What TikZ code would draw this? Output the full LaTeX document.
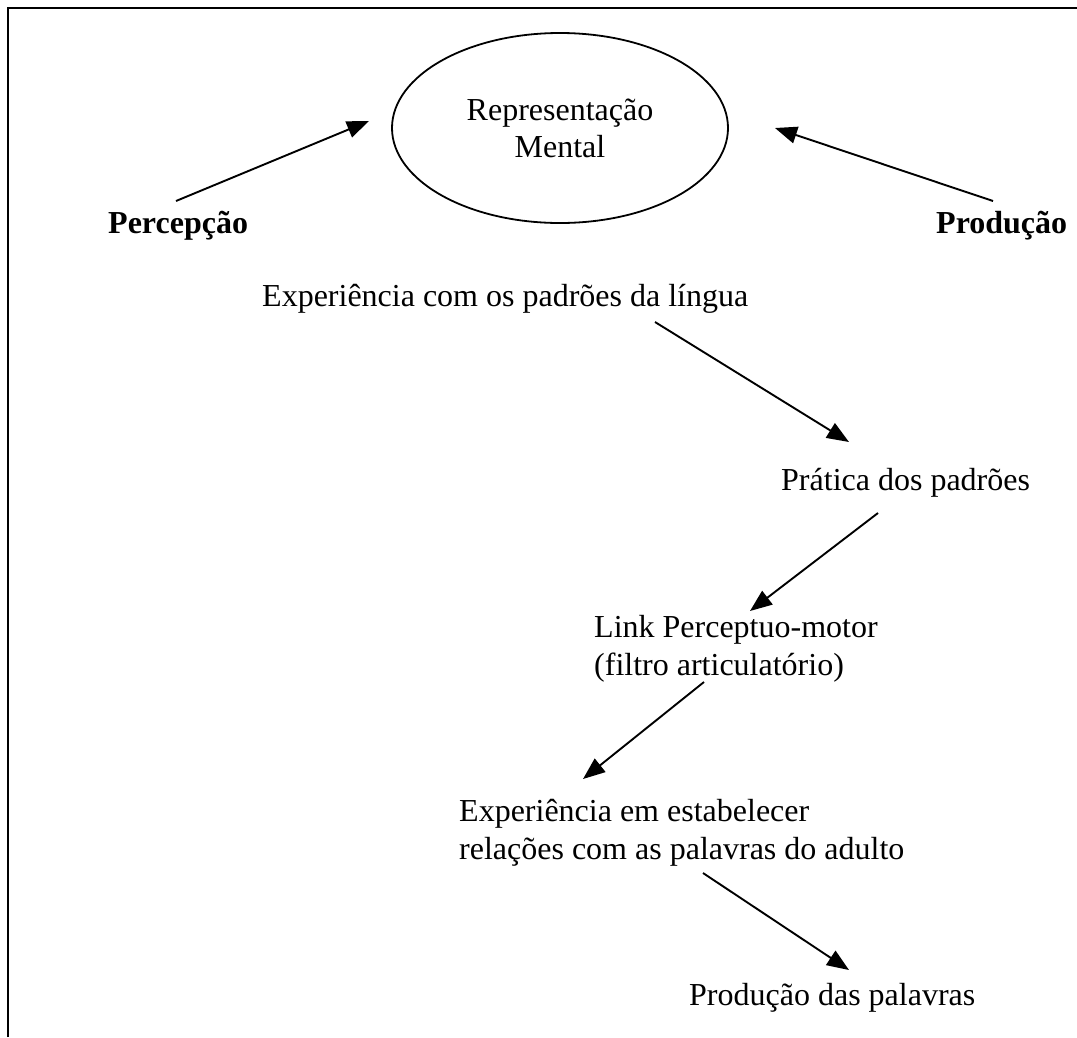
\documentclass[tikz,border=0pt]{standalone}
\usepackage{fontspec}
\setmainfont{Liberation Serif}
\usetikzlibrary{arrows.meta, shapes.geometric, positioning}
\tikzset{
    txt0/.style={inner sep=0pt, anchor=base west, align=left, font=\fontsize{32}{37.5}\selectfont},
    txt1/.style={txt0, font=\fontsize{32}{37.5}\selectfont\bfseries},
    mindNode/.style={ellipse, draw, line width=1.8pt, minimum width=336pt, minimum height=190pt, inner sep=0pt, align=center, font=\fontsize{32}{37}\selectfont},
    flowEdge/.style={-{Triangle[length=22pt, width=17pt]}, line width=1.9pt},
    frameLine/.style={line width=2.6pt},
}
\newcommand{\drawFlow}[2]{
    \draw[flowEdge] (#1) -- (#2);
}

\begin{document}
\begin{tikzpicture}[x=1pt, y=-1pt]

        \useasboundingbox (0,0) rectangle (1077,1037);
        \draw[frameLine] (8,1037) -- (8,8) -- (1077,8);

        \node[mindNode] (rep) at (560,128) {Representação\\Mental};
        \node[txt1] (perc) at (108,233) {Percepção};
        \node[txt1] (prod) at (936,233) {Produção};
        \node[txt0] (exp) at (262,306) {Experiência com os padrões da língua};
        \node[txt0] (prat) at (781,490) {Prática dos padrões};
        \node[txt0] (link) at (594,675) {Link Perceptuo-motor\\(filtro articulatório)};
        \node[txt0] (rel) at (459,859) {Experiência em estabelecer\\relações com as palavras do adulto};
        \node[txt0] (pal) at (689,1005) {Produção das palavras};

        % pontas das setas
        \coordinate (p1) at (176,201);  \coordinate (q1) at (369,121);
        \coordinate (p2) at (993,201);  \coordinate (q2) at (775,128);
        \coordinate (p3) at (655,322);  \coordinate (q3) at (849,442);
        \coordinate (p4) at (878,513);  \coordinate (q4) at (750,611);
        \coordinate (p5) at (704,682);  \coordinate (q5) at (583,779);
        \coordinate (p6) at (703,873);  \coordinate (q6) at (849,970);

        \drawFlow{p1}{q1}
        \drawFlow{p2}{q2}
        \drawFlow{p3}{q3}
        \drawFlow{p4}{q4}
        \drawFlow{p5}{q5}
        \drawFlow{p6}{q6}

    \end{tikzpicture}
\end{document}
